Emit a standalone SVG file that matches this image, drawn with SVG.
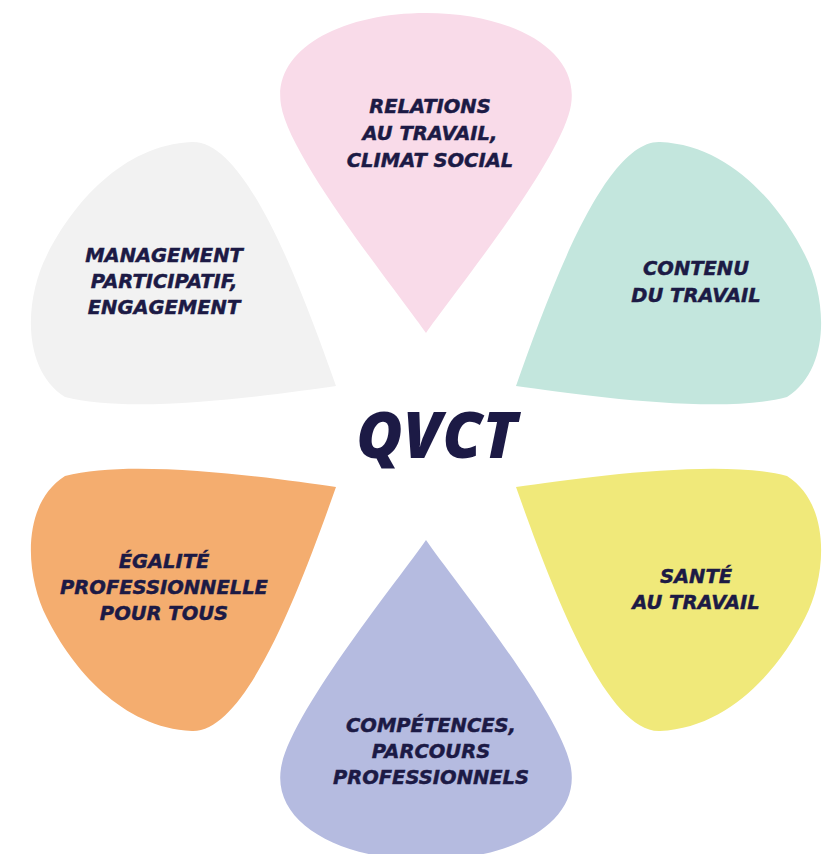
<svg xmlns="http://www.w3.org/2000/svg" width="825" height="854" viewBox="0 0 825 854">
<defs>
<style>
.lbl{font-family:"DejaVu Sans","Liberation Sans",sans-serif;font-weight:700;font-style:oblique;font-size:19.5px;fill:#1c1a45;stroke:#1c1a45;stroke-width:0.45px;text-anchor:middle}
.title{font-family:"Open Sans","Liberation Sans",sans-serif;font-weight:800;font-style:italic;font-size:63px;letter-spacing:0.5px;fill:#1c1a45;text-anchor:middle}
</style>
<path id="drop" d="M426,333 C400,295 290,160 281,105 C272,50 340,13 426,13 C512,13 580,50 571,105 C562,160 452,295 426,333 Z"/>
<path id="leaf" d="M516,386 C580,395 720,415 787,397 C830,370 828,300 805,255 C780,205 730,145 660,142 C605,140 550,290 516,386 Z"/>
</defs>
<rect width="825" height="854" fill="#ffffff"/>
<g id="relations">
<use href="#drop" fill="#f9dbe9"/>
<text class="lbl" x="430" y="113">RELATIONS</text>
<text class="lbl" x="430" y="140">AU TRAVAIL,</text>
<text class="lbl" x="430" y="167">CLIMAT SOCIAL</text>
</g>
<g id="contenu">
<use href="#leaf" fill="#c3e6dd"/>
<text class="lbl" x="696" y="275">CONTENU</text>
<text class="lbl" x="696" y="302">DU TRAVAIL</text>
</g>
<g id="management">
<use href="#leaf" fill="#f2f2f2" transform="matrix(-1,0,0,1,852,0)"/>
<text class="lbl" x="164" y="262">MANAGEMENT</text>
<text class="lbl" x="164" y="288">PARTICIPATIF,</text>
<text class="lbl" x="164" y="314">ENGAGEMENT</text>
</g>
<g id="egalite">
<use href="#leaf" fill="#f4ad6f" transform="matrix(-1,0,0,-1,852,873)"/>
<text class="lbl" x="164" y="568">ÉGALITÉ</text>
<text class="lbl" x="164" y="594">PROFESSIONNELLE</text>
<text class="lbl" x="164" y="620">POUR TOUS</text>
</g>
<g id="sante">
<use href="#leaf" fill="#f0e97a" transform="matrix(1,0,0,-1,0,873)"/>
<text class="lbl" x="696" y="583">SANTÉ</text>
<text class="lbl" x="696" y="609">AU TRAVAIL</text>
</g>
<g id="competences">
<use href="#drop" fill="#b5bbe0" transform="matrix(1,0,0,-1,0,873)"/>
<text class="lbl" x="431" y="732">COMPÉTENCES,</text>
<text class="lbl" x="431" y="758">PARCOURS</text>
<text class="lbl" x="431" y="784">PROFESSIONNELS</text>
</g>
<g id="qvct">
<text class="title" x="437" y="458">QVCT</text>
</g>
<g id="connectors"/>
</svg>
